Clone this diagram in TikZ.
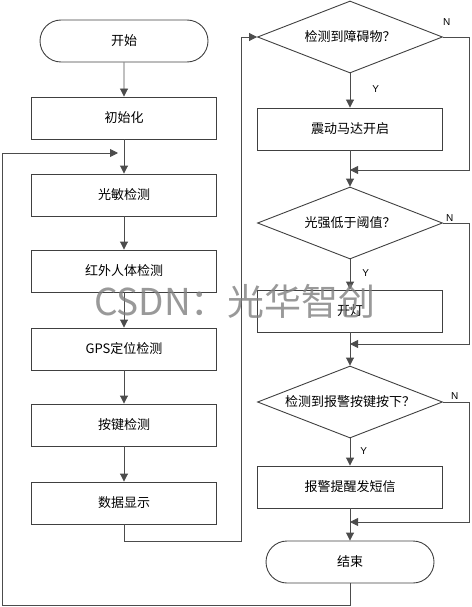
\documentclass[tikz,border=0pt]{standalone}
\usepackage{fontspec}
\setmainfont{Noto Sans CJK SC}
\newfontfamily\yesnofont{Liberation Sans}
\usetikzlibrary{positioning,arrows.meta,shapes.misc,shapes.geometric}
\tikzset{>={Triangle[length=8pt,width=8pt]}}
\tikzset{
  line/.style={draw=black!70,line width=0.9pt},
  proc/.style={draw=black!75,line width=0.9pt,minimum width=185pt,minimum height=42pt,inner sep=0pt,font=\fontsize{13}{15}\selectfont},
  term/.style={proc,rounded rectangle,minimum width=168pt},
  decide/.style={proc,diamond,aspect=2.5,minimum width=185pt,minimum height=72pt},
  yn/.style={font=\yesnofont\fontsize{10}{12}\selectfont,inner sep=0pt}
}

\begin{document}
\begin{tikzpicture}[x=1pt,y=-1pt]
\useasboundingbox (0,0) rectangle (471,607);
% left column
\node[term] (start) at (124,41) {开始};
\node[proc] (init) at (124,118) {初始化};
\node[proc] (light) at (124,195) {光敏检测};
\node[proc] (ir) at (124,271) {红外人体检测};
\node[proc] (gps) at (124,349) {GPS定位检测};
\node[proc] (key) at (124,425) {按键检测};
\node[proc] (disp) at (124,503) {数据显示};
% right column
\node[decide] (obst) at (350,37) {检测到障碍物？};
\node[proc] (motor) at (350,129) {震动马达开启};
\node[decide] (bright) at (350,223) {光强低于阈值？};
\node[proc] (lamp) at (350,311) {开灯};
\node[decide] (alarm) at (350,402) {检测到报警按键按下？};
\node[proc] (sms) at (350,487) {报警提醒发短信};
\node[term] (stop) at (350,562) {结束};
% turning points
\coordinate (up) at (241,541);
\coordinate (j1) at (350,170);
\coordinate (j2) at (350,344);
\coordinate (j3) at (350,522);
\coordinate (n1) at (469,170);
\coordinate (n2) at (469,344);
\coordinate (n3) at (469,522);
\coordinate (back) at (2,605);
\coordinate (loop) at (118,153);

\draw[line,->] (start) -- (init);
\draw[line,->] (init) -- (light);
\draw[line,->] (light) -- (ir);
\draw[line,->] (ir) -- (gps);
\draw[line,->] (gps) -- (key);
\draw[line,->] (key) -- (disp);
\draw[line,->] (disp.south) |- (up) |- (obst.west);

\draw[line,->] (obst) -- node[yn,right=22pt,pos=0.45] (y1) {Y} (motor);
\draw[line] (motor) -- (j1);
\draw[line,->] (j1) -- (bright);
\draw[line,->] (obst.east) -| (n1) -- (j1);
\node[yn,above right=11pt and 0pt of obst.east] (no1) {N};

\draw[line,->] (bright) -- node[yn,right=12pt,pos=0.45] (y2) {Y} (lamp);
\draw[line] (lamp) -- (j2);
\draw[line,->] (j2) -- (alarm);
\draw[line,->] (bright.east) -| (n2) -- (j2);
\node[yn,above right=1pt and 3pt of bright.east] (no2) {N};

\draw[line,->] (alarm) -- node[yn,right=10pt,pos=0.45] (y3) {Y} (sms);
\draw[line] (sms) -- (j3);
\draw[line,->] (j3) -- (stop);
\draw[line,->] (alarm.east) -| (n3) -- (j3);
\node[yn,above right=2pt and 8pt of alarm.east] (no3) {N};

\draw[line,->] (stop.south) |- (back) |- (loop);

% watermark
\node[text=black!50,opacity=0.8,font=\fontsize{37}{40}\selectfont,inner sep=0pt] (mark) at (235,301) {CSDN：光华智创};
\end{tikzpicture}
\end{document}
